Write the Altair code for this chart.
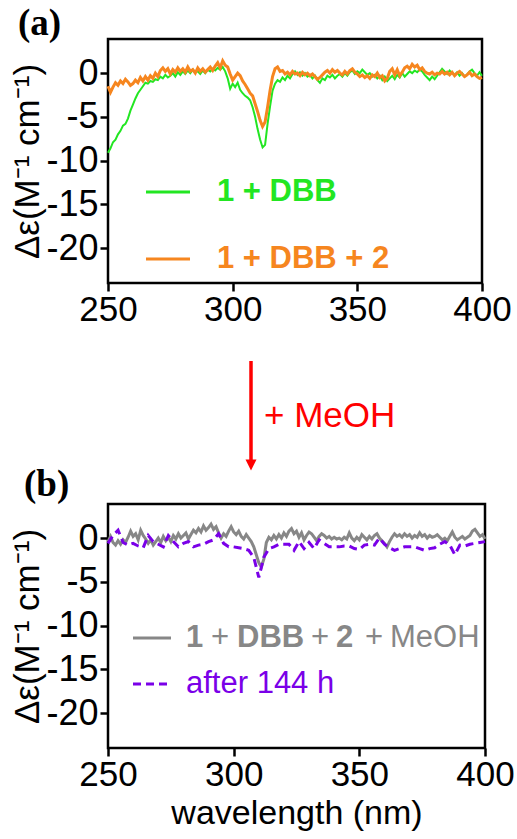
import altair as alt
import pandas as pd

# ---------------- data ----------------
wavelength = list(range(250, 401))          # 1 nm step
wavelength_2nm = list(range(250, 401, 2))   # 2 nm step

green_1_DBB = [
    -9.1, -8.6, -7.9, -7.6, -7.0, -6.6, -6.0, -5.8, -5.2, -4.3,
    -3.6, -2.9, -2.3, -1.9, -1.5, -1.1, -1.2, -0.9, -1.0, -0.7,
    -0.8, -0.4, -0.6, -0.2, -0.5, -0.3, 0.0, -0.4, 0.1, -0.2,
    0.2, -0.1, 0.3, 0.0, 0.4, 0.1, 0.2, -0.1, 0.3, 0.0,
    0.4, 0.2, 0.5, 0.3, 0.6, 0.4, 0.7, 0.2, -0.6, -1.8,
    -1.2, -1.6, -1.1, -1.9, -2.3, -2.6, -2.8, -3.1, -3.9, -5.0,
    -6.4, -7.6, -8.5, -8.2, -5.8, -3.8, -2.0, -1.2, -0.8, -1.0,
    -0.5, -0.8, -0.3, -0.6, -0.1, 0.2, -0.2, 0.1, -0.3, 0.0,
    -0.4, -0.2, -0.6, -0.3, -0.8, -1.1, -0.6, -0.8, -0.3, -0.5,
    -0.2, -0.6, -0.3, -0.1, -0.4, 0.0, -0.3, 0.1, 0.3, -0.1,
    0.2, 0.0, 0.4, 0.1, -0.2, 0.0, -0.4, -0.2, -0.6, -0.3,
    -0.8, -0.4, -0.9, -0.6, -0.3, -0.7, -0.2, -0.5, 0.0, -0.4,
    -0.1, 0.2, 0.0, 0.3, 0.1, 0.4, 0.2, -0.2, -0.5, -0.8,
    -0.4, -0.7, -0.3, 0.1, 0.5, 0.2, -0.1, 0.3, 0.0, -0.2,
    0.1, -0.3, 0.0, -0.4, -0.2, 0.2, 0.4, 0.0, -0.3, 0.1,
    -0.3,
]

orange_1_DBB_2 = [
    -1.5, -2.2, -1.6, -1.1, -1.4, -0.9, -1.2, -0.7, -1.0, -1.4,
    -1.2, -0.8, -1.1, -0.5, -0.9, -0.4, -0.8, -0.3, -0.6, 0.0,
    -0.4, 0.3, 0.6, 0.2, 0.5, -0.1, 0.4, 0.1, 0.6, 0.2,
    0.5, 0.1, 0.7, 0.2, 0.4, 0.0, 0.6, 0.2, 0.5, 0.1,
    0.4, 0.7, 0.3, 0.8, 1.2, 0.6, 1.4, 0.9, 0.7, -0.1,
    -0.8, -0.4, 0.0, -0.3, -0.9, -1.3, -1.8, -2.3, -2.6, -3.5,
    -4.4, -5.4, -6.1, -5.6, -3.9, -2.0, -0.4, 0.5, 0.7, 0.2,
    0.3, -0.1, 0.1, -0.2, 0.2, -0.1, 0.0, -0.3, 0.1, -0.2,
    0.0, -0.3, -0.1, -0.4, -0.7, -0.5, -0.2, 0.1, 0.3, 0.0,
    0.4, 0.1, 0.3, 0.0, -0.2, 0.2, -0.1, 0.3, 0.5, 0.1,
    -0.1, -0.4, -0.2, -0.5, -0.3, -0.6, -0.2, -0.4, 0.0, -0.5,
    -0.3, -0.9, -0.6, 0.2, 0.5, -0.2, 0.4, -0.3, 0.1, 0.6,
    0.8, 0.5, 1.0, 0.7, 0.9, 0.4, 0.6, 0.2, 0.0, -0.1,
    0.1, -0.2, 0.0, -0.1, 0.2, -0.1, 0.1, -0.2, 0.1, -0.3,
    0.0, 0.2, -0.1, -0.4, -0.2, 0.1, -0.3, -0.1, -0.4, -0.6,
    -0.5,
]

gray_MeOH = [
    -0.4, 0.2, -0.5, -0.8, -0.3, -0.7, -0.2, -0.5, 0.1, 0.8,
    0.2, 0.5, -0.2, 0.9, 0.3, -0.1, -0.6, -0.2, -0.8, -0.4,
    0.0, -0.5, 0.2, -0.3, 0.1, -0.4, 0.3, -0.1, 0.5, 0.0,
    0.3, 0.6, -0.1, 0.4, 0.9, 0.6, 1.1, 0.7, 1.4, 0.9,
    1.2, 1.6, 1.0, 1.3, 0.6, 0.0, 0.5, 0.2, 0.8, 1.3,
    0.7, 0.4, 0.8, 0.2, -0.1, 0.4, 0.0, -0.4, -1.0, -1.9,
    -2.8, -3.3, -2.4, -0.5, 0.1, -0.2, 0.3, -0.1, 0.4, 0.0,
    0.6, 0.2, 0.8, 1.1, 0.5, 0.8, 0.1, 0.6, -0.2, 0.3,
    0.7, 0.5, 0.1, -0.3, 0.2, 0.5, 0.3, 0.0, 0.2, -0.1,
    0.1, -0.1, 0.0, -0.2, 0.1, -0.1, 0.6, 0.0, -0.3, 0.1,
    -0.2, 0.4, 0.1, -0.2, 0.2, -0.1, 0.3, 0.5, 0.0, -0.3,
    -0.6, -1.0, -0.4, 0.1, 0.5, 0.2, 0.4, 0.1, 0.5, 0.2,
    0.4, 0.0, 0.3, 0.1, 0.6, 0.2, 0.4, 0.0, 0.3, 0.1,
    0.2, 0.4, 0.1, -0.2, 0.0, -0.3, 0.2, 0.7, 0.1, -0.2,
    0.0, 0.2, -0.1, 0.1, 0.3, 0.8, 1.0, 0.6, 0.2, 0.4,
    -0.1,
]

purple_144h = [
    -0.6, 0.3, 0.9, -0.5, -0.8, -0.6, -0.9, -1.1, 0.3, -0.4,
    -0.7, -1.0, 0.3, -0.4, -1.0, -0.6, -0.4, -1.0, -0.8, -0.7,
    -0.4, -0.2, 0.5, -0.6, -1.0, -1.0, -1.1, -1.2, -1.4, -2.2,
    -4.5, -2.2, -1.2, -1.0, -0.7, -0.7, -0.7, -1.4, -0.4, -1.2,
    -0.5, -1.2, -0.2, -0.6, -1.0, -1.0, -1.0, -0.9, -0.9, -1.2,
    -1.3, -0.8, -0.7, -0.8, 0.0, -0.7, -1.1, -1.4, -1.2, -1.0,
    -1.0, -1.0, -1.2, -1.4, -1.2, -1.1, -0.7, -0.4, -0.8, -1.9,
    -0.8, -0.9, -0.7, -0.6, -0.5, -0.4,
]

x_ticks = [250, 300, 350, 400]
y_ticks = [-20, -15, -10, -5, 0]

GREEN = "#22e622"
ORANGE = "#f6861f"
GRAY = "#878787"
PURPLE = "#7a00e8"
RED = "#ff0000"

FONT = "Liberation Sans"
SERIF = "Liberation Serif"

dfA_green = pd.DataFrame({"wl": wavelength, "v": green_1_DBB})
dfA_orange = pd.DataFrame({"wl": wavelength, "v": orange_1_DBB_2})
dfB_gray = pd.DataFrame({"wl": wavelength, "v": gray_MeOH})
dfB_purple = pd.DataFrame({"wl": wavelength_2nm, "v": purple_144h})

one = pd.DataFrame({"a": [0]})


def x_enc(title=None):
    return alt.X(
        "wl:Q",
        scale=alt.Scale(domain=[250, 400], nice=False),
        axis=alt.Axis(
            values=x_ticks, title=title, grid=False, domain=False,
            labelFlush=False, labelOverlap=False,
            labelFont=FONT, labelFontSize=35, labelColor="black",
            labelPadding=1, tickColor="black", tickWidth=2.5, tickSize=8,
            titleFont=FONT, titleFontSize=34, titleFontWeight="normal",
            titleColor="black", titlePadding=4,
        ),
    )


def y_enc():
    return alt.Y(
        "v:Q",
        scale=alt.Scale(domain=[-24, 3.9], nice=False),
        axis=alt.Axis(
            values=y_ticks, title="Δε(M⁻¹ cm⁻¹)", grid=False, domain=False,
            labelExpr="'' + datum.value", labelOverlap=False,
            labelFont=FONT, labelFontSize=36, labelColor="black",
            labelPadding=2, tickColor="black", tickWidth=2.5, tickSize=8,
            titleFont=FONT, titleFontSize=35, titleFontWeight="normal",
            titleColor="black", titlePadding=0,
        ),
    )


def vtext(txt, x, y, color, size, weight="normal", font=FONT, baseline="middle"):
    return alt.Chart(pd.DataFrame({"t": [txt]})).mark_text(
        align="left", baseline=baseline, font=font, fontSize=size,
        fontWeight=weight, color=color,
    ).encode(x=alt.value(x), y=alt.value(y), text="t:N")


def vrule(x1, x2, y, color, width, dash=None):
    kw = dict(color=color, strokeWidth=width)
    if dash is not None:
        kw["strokeDash"] = dash
    return alt.Chart(one).mark_rule(**kw).encode(
        x=alt.value(x1), x2=alt.value(x2), y=alt.value(y)
    )


# ---------------- panel (a) ----------------
lineG = alt.Chart(dfA_green).mark_line(color=GREEN, strokeWidth=2).encode(x=x_enc(), y=y_enc())
lineO = alt.Chart(dfA_orange).mark_line(color=ORANGE, strokeWidth=3).encode(x=x_enc(), y=y_enc())

panelA = alt.layer(
    lineG, lineO,
    vrule(38, 82, 153, GREEN, 3),
    vtext("1 + DBB", 109, 153, GREEN, 31, "bold"),
    vrule(38, 82, 220, ORANGE, 3),
    vtext("1 + DBB + 2", 109, 220, ORANGE, 31, "bold"),
    vtext("(a)", -90, -33, "black", 37, "bold", SERIF, "top"),
).properties(width=374, height=244)

# ---------------- panel (b) ----------------
lineGr = alt.Chart(dfB_gray).mark_line(color=GRAY, strokeWidth=3).encode(x=x_enc("wavelength (nm)"), y=y_enc())
lineP = alt.Chart(dfB_purple).mark_line(color=PURPLE, strokeWidth=3, strokeDash=[8, 5]).encode(
    x=x_enc("wavelength (nm)"), y=y_enc()
)

arrow = alt.Chart(one).mark_rule(color=RED, strokeWidth=3.5).encode(
    x=alt.value(143), y=alt.value(-143), y2=alt.value(-44)
)
arrow_head = alt.Chart(one).mark_point(
    shape="M-1,-1L1,-1L0,1Z", filled=True, size=120, color=RED, opacity=1
).encode(x=alt.value(143), y=alt.value(-39))

panelB = alt.layer(
    lineGr, lineP,
    vrule(25, 63, 134, GRAY, 3),
    vtext("1", 78, 134, GRAY, 31, "bold"),
    vtext("+", 103, 134, GRAY, 31),
    vtext("DBB", 129, 134, GRAY, 31, "bold"),
    vtext("+", 203, 134, GRAY, 31),
    vtext("2", 228, 134, GRAY, 31, "bold"),
    vtext("+", 257, 134, GRAY, 31),
    vtext("MeOH", 282, 134, GRAY, 31),
    vrule(25, 63, 180, PURPLE, 3, [8, 5]),
    vtext("after 144 h", 78, 180, PURPLE, 31),
    arrow, arrow_head,
    vtext("+ MeOH", 156, -88, RED, 35),
    vtext("(b)", -84, -37, "black", 37, "bold", SERIF, "top"),
).properties(width=377, height=244)

chart = (
    alt.vconcat(panelA, panelB, spacing=29)
    .properties(padding={"left": 9, "top": 3, "right": 0, "bottom": 0}, background="white")
    .configure_view(stroke="black", strokeWidth=2.5)
)

chart.save("out.html", embed_options={"renderer": "svg", "actions": False})
